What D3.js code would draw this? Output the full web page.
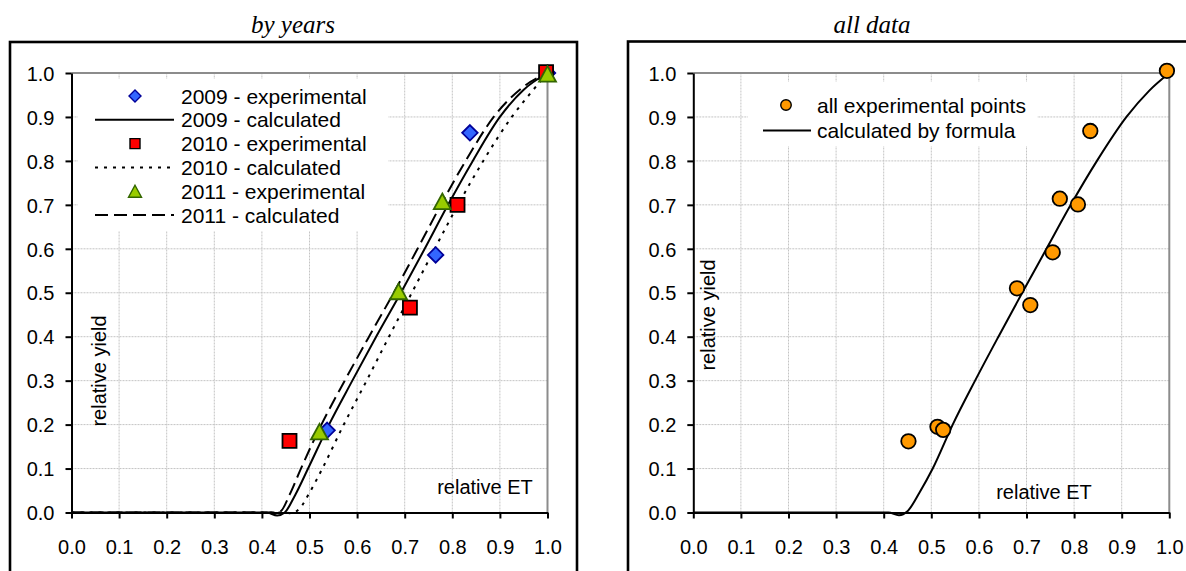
<!DOCTYPE html>
<html lang="en">
<head>
<meta charset="UTF-8">
<title>relative yield vs relative ET</title>
<script src="https://cdn.jsdelivr.net/npm/d3@7"></script>
<style>
  body { margin: 0; background: #fff; }
  text { font-family: Arial, "Liberation Sans", sans-serif; }
</style>
</head>
<body>
<svg width="1186" height="571" id="svgcontainer"></svg>
<script>
    // tick labels (both axes, both charts)
    const tickValues = [0, 0.1, 0.2, 0.3, 0.4, 0.5, 0.6, 0.7, 0.8, 0.9, 1.0];

    // left chart: experimental points by year
    const exp2009X = [0.537, 0.765, 0.837, 1.0];
    const exp2009Y = [0.187, 0.586, 0.864, 1.0];
    const exp2010X = [0.458, 0.711, 0.811, 0.997];
    const exp2010Y = [0.163, 0.466, 0.700, 1.002];
    const exp2011X = [0.521, 0.687, 0.779, 1.0];
    const exp2011Y = [0.184, 0.503, 0.708, 0.998];

    // left chart: calculated curves as [x, y]
    const calc2009 = [[0,0],[0.41,0],[0.432,-0.007],[0.448,0],[0.47,0.04],[0.497,0.10],[0.541,0.20],
        [0.59,0.30],[0.64,0.40],[0.692,0.50],[0.742,0.60],[0.791,0.70],[0.843,0.80],[0.90,0.90],[0.95,0.962],[1.0,1.0]];
    const calc2010 = [[0,0],[0.45,0],[0.462,-0.002],[0.48,0.01],[0.50,0.045],[0.527,0.10],[0.572,0.20],
        [0.62,0.30],[0.667,0.40],[0.715,0.50],[0.763,0.60],[0.812,0.70],[0.865,0.80],[0.925,0.90],[0.965,0.955],[1.0,1.0]];
    const calc2011 = [[0,0],[0.42,0],[0.438,0.002],[0.458,0.04],[0.482,0.10],[0.525,0.20],[0.574,0.30],
        [0.625,0.40],[0.677,0.50],[0.727,0.60],[0.776,0.70],[0.828,0.80],[0.887,0.90],[0.945,0.965],[1.0,1.0]];

    // right chart: all experimental points + formula curve
    const allX = [0.452, 0.513, 0.525, 0.68, 0.708, 0.755, 0.77, 0.808, 0.834, 0.995];
    const allY = [0.162, 0.195, 0.188, 0.51, 0.472, 0.592, 0.714, 0.701, 0.868, 1.005];
    const calcAll = [[0,0],[0.41,0],[0.432,-0.006],[0.45,0.003],[0.475,0.045],[0.503,0.10],[0.545,0.20],
        [0.592,0.30],[0.641,0.40],[0.691,0.50],[0.742,0.60],[0.793,0.70],[0.848,0.80],[0.91,0.90],[0.958,0.96],[1.0,1.0]];

    const legendLeft = ['2009 - experimental', '2009 - calculated', '2010 - experimental',
        '2010 - calculated', '2011 - experimental', '2011 - calculated'];
    const legendRight = ['all experimental points', 'calculated by formula'];

    const svg = d3.select('#svgcontainer');
    const fmt = d3.format('.1f');

    const sym = {
        diamond: {fill: '#3366ff', stroke: '#000099', path: s => `M0,${-s/2}L${s/2},0L0,${s/2}L${-s/2},0Z`},
        square: {fill: '#ff0000', stroke: '#000000', path: s => `M${-s/2},${-s/2}h${s}v${s}h${-s}Z`},
        triangle: {fill: '#99cc00', stroke: '#336600', path: s => `M0,${-s*0.46}L${s/2},${s*0.46}L${-s/2},${s*0.46}Z`},
        circle: {fill: '#ff9900', stroke: '#000000', path: s => `M${-s/2},0a${s/2},${s/2} 0 1,0 ${s},0a${s/2},${s/2} 0 1,0 ${-s},0`}
    };

    function panel(o) {
        const x = d3.scaleLinear().domain([0, 1]).range(o.xr);
        const y = d3.scaleLinear().domain([0, 1]).range([512.5, 73]);
        const g = svg.append('g');

        // outer frame
        g.append('rect').attr('x', o.frame[0]).attr('y', o.frame[1]).attr('width', o.frame[2]).attr('height', 600)
            .attr('fill', 'none').attr('stroke', '#000').attr('stroke-width', 2.6);

        // title
        g.append('text').text(o.title).attr('x', o.titleX).attr('y', 33).attr('text-anchor', 'middle')
            .style('font-family', '"Liberation Serif", "Times New Roman", serif').style('font-style', 'italic')
            .attr('font-size', 25);

        // gridlines
        const grid = tickValues.slice(1, 10);
        g.selectAll('.vg').data(grid).join('line').attr('class', 'vg')
            .attr('x1', d => x(d)).attr('x2', d => x(d)).attr('y1', y(0)).attr('y2', y(1))
            .attr('stroke', '#c4c4c4').attr('stroke-width', 1).attr('stroke-dasharray', '2,1');
        g.selectAll('.hg').data(grid).join('line').attr('class', 'hg')
            .attr('x1', x(0)).attr('x2', x(1)).attr('y1', d => y(d)).attr('y2', d => y(d))
            .attr('stroke', '#c4c4c4').attr('stroke-width', 1).attr('stroke-dasharray', '2,1');

        // plot area border (top/right grey)
        g.append('path').attr('d', `M${x(0)},${y(1)}H${x(1)}V${y(0)}`)
            .attr('fill', 'none').attr('stroke', '#8c8c8c').attr('stroke-width', 2);

        // legend box hides gridlines
        g.append('rect').attr('x', o.legBox[0]).attr('y', o.legBox[1]).attr('width', o.legBox[2]).attr('height', o.legBox[3])
            .attr('fill', '#fff');

        // axes
        const xAxis = d3.axisBottom(x).tickValues(tickValues).tickFormat(fmt).tickSize(6).tickSizeOuter(0).tickPadding(21);
        const yAxis = d3.axisLeft(y).tickValues(tickValues).tickFormat(fmt).tickSize(6).tickSizeOuter(0).tickPadding(11);
        const gx = g.append('g').attr('transform', `translate(0,${y(0)})`).call(xAxis);
        const gy = g.append('g').attr('transform', `translate(${x(0)},0)`).call(yAxis);
        [gx, gy].forEach(a => {
            a.select('.domain').attr('stroke', '#000').attr('stroke-width', 2);
            a.selectAll('.tick line').attr('stroke', '#000').attr('stroke-width', 2);
            a.selectAll('.tick text').attr('fill', '#000').attr('font-size', 20)
                .style('font-family', 'Arial, "Liberation Sans", sans-serif');
        });
        gy.selectAll('.tick text').attr('dy', '0.36em');

        // axis titles
        g.append('text').text('relative ET').attr('x', o.etPos[0]).attr('y', o.etPos[1])
            .attr('text-anchor', 'middle').attr('font-size', 20);
        g.append('text').text('relative yield').attr('text-anchor', 'middle').attr('font-size', 20)
            .attr('transform', `translate(${o.yieldPos[0]},${o.yieldPos[1]}) rotate(-90)`);

        const line = d3.line().x(d => x(d[0])).y(d => y(d[1])).curve(d3.curveMonotoneX);
        o.curves.forEach(c => {
            g.append('path').attr('d', line(c.data)).attr('fill', 'none').attr('stroke', '#000')
                .attr('stroke-width', 2).attr('stroke-dasharray', c.dash);
        });
        o.points.forEach(p => {
            const s = sym[p.shape];
            g.selectAll(null).data(d3.zip(p.xs, p.ys)).join('path')
                .attr('d', s.path(p.size)).attr('transform', d => `translate(${x(d[0])},${y(d[1])})`)
                .attr('fill', s.fill).attr('stroke', s.stroke).attr('stroke-width', 1.8);
        });

        // legend entries
        o.legend.forEach((e, i) => {
            const ly = o.legRow0 + i * o.legStep;
            if (e.shape) {
                const s = sym[e.shape];
                g.append('path').attr('d', s.path(e.size)).attr('transform', `translate(${o.legMark},${ly})`)
                    .attr('fill', s.fill).attr('stroke', s.stroke).attr('stroke-width', 1.4);
            } else {
                g.append('line').attr('x1', o.legLine[0]).attr('x2', o.legLine[1]).attr('y1', ly).attr('y2', ly)
                    .attr('stroke', '#000').attr('stroke-width', 2).attr('stroke-dasharray', e.dash);
            }
            g.append('text').text(e.label).attr('x', o.legText).attr('y', ly).attr('dy', '0.36em').attr('font-size', 21);
        });
    }

    panel({
        xr: [71.5, 547.5], frame: [10, 42, 567], title: 'by years', titleX: 293,
        legBox: [78, 79, 310, 152], etPos: [485, 494], yieldPos: [106, 371],
        curves: [
            {data: calc2009, dash: null},
            {data: calc2010, dash: '3,6'},
            {data: calc2011, dash: '13,6'}
        ],
        points: [
            {xs: exp2009X, ys: exp2009Y, shape: 'diamond', size: 15.5},
            {xs: exp2010X, ys: exp2010Y, shape: 'square', size: 14},
            {xs: exp2011X, ys: exp2011Y, shape: 'triangle', size: 17}
        ],
        legend: [
            {label: legendLeft[0], shape: 'diamond', size: 12},
            {label: legendLeft[1], dash: null},
            {label: legendLeft[2], shape: 'square', size: 10},
            {label: legendLeft[3], dash: '3,6'},
            {label: legendLeft[4], shape: 'triangle', size: 13},
            {label: legendLeft[5], dash: '13,6'}
        ],
        legRow0: 96, legStep: 23.8, legMark: 135, legLine: [95, 174], legText: 181
    });

    panel({
        xr: [693.3, 1169.3], frame: [628, 41.5, 620], title: 'all data', titleX: 872,
        legBox: [748, 82, 289, 64], etPos: [1044, 499], yieldPos: [715, 315],
        curves: [{data: calcAll, dash: null}],
        points: [{xs: allX, ys: allY, shape: 'circle', size: 14.5}],
        legend: [
            {label: legendRight[0], shape: 'circle', size: 10.5},
            {label: legendRight[1], dash: null}
        ],
        legRow0: 105, legStep: 25.5, legMark: 786, legLine: [763, 811], legText: 817
    });
</script>
</body>
</html>
